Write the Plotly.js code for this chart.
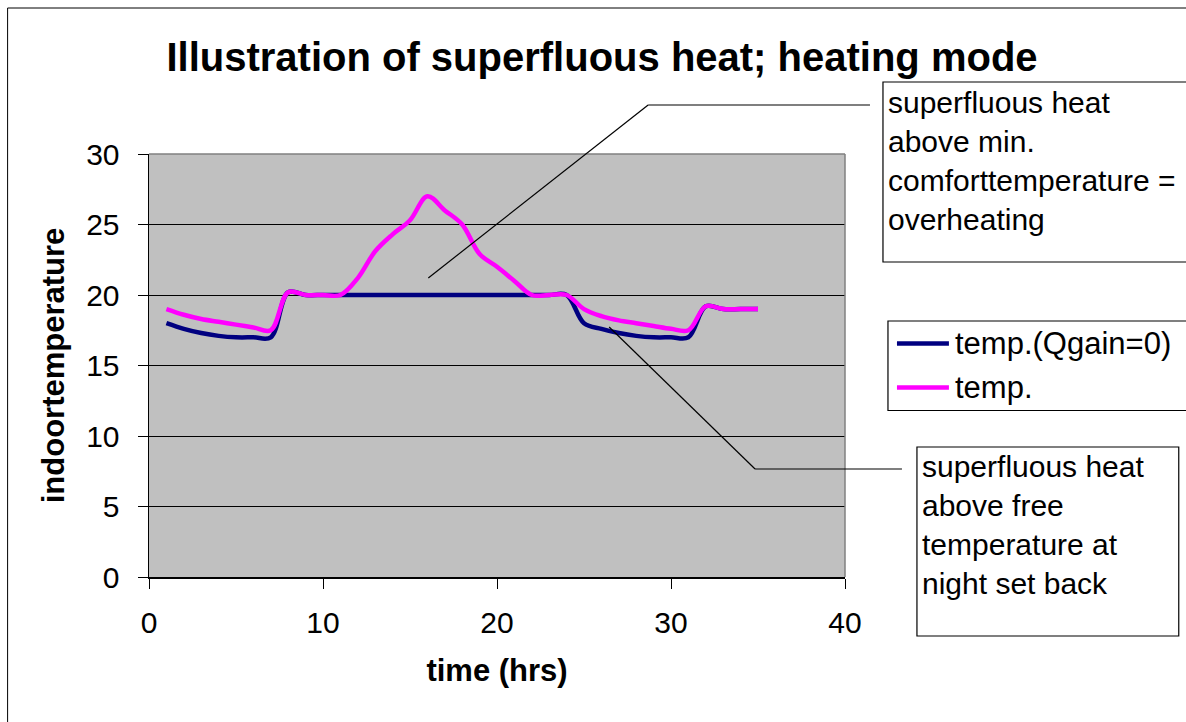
<!DOCTYPE html>
<html>
<head>
<meta charset="utf-8">
<script src="https://cdn.plot.ly/plotly-3.0.1.min.js"></script>
<style>html,body{margin:0;padding:0;background:#fff;}#chart{width:1186px;height:722px;}</style>
</head>
<body>
<div id="chart"></div>
<script>
// ---- data ----
const hours = [1,2,3,4,5,6,7,8,9,10,11,12,13,14,15,16,17,18,19,20,21,22,23,24,25,26,27,28,29,30,31,32,33,34,35];
const tempNoGain = [18.0,17.6,17.3,17.1,17.0,17.0,17.0,20.2,20.0,20.0,20.0,20.0,20.0,20.0,20.0,20.0,20.0,20.0,20.0,20.0,20.0,20.0,20.0,20.0,18.0,17.6,17.3,17.1,17.0,17.0,17.0,19.2,19.0,19.0,19.0];
const temp = [19.0,18.6,18.3,18.1,17.9,17.7,17.5,20.2,20.0,20.0,20.0,21.2,23.1,24.3,25.3,27.0,26.0,25.0,22.9,22.0,21.0,20.0,20.0,20.0,19.0,18.5,18.2,18.0,17.8,17.6,17.5,19.2,19.0,19.0,19.0];
const seriesNames = ["temp.(Qgain=0)", "temp."];
const chartTitle = "Illustration of superfluous heat; heating mode";
const xTitle = "time (hrs)";
const yTitle = "indoortemperature";
const note1 = ["superfluous heat", "above min.", "comforttemperature =", "overheating"];
const note2 = ["superfluous heat", "above free", "temperature at", "night set back"];

// ---- layout helpers (pixel -> paper) ----
const W = 1186, H = 722;
const L = 148.5, R = 845, T = 154, B = 577;
const pw = R - L, ph = B - T;
const px = x => (x - L) / pw;
const py = y => (B - y) / ph;
const FONT = "Liberation Sans, Arial, sans-serif";
const colors = ["#000080", "#FF00FF"];

const traces = [
  {x: hours, y: tempNoGain, name: seriesNames[0], type: "scatter", mode: "lines",
   line: {color: colors[0], width: 4.5, shape: "spline", smoothing: 1}},
  {x: hours, y: temp, name: seriesNames[1], type: "scatter", mode: "lines",
   line: {color: colors[1], width: 4.5, shape: "spline", smoothing: 1}}
];

const shapes = [];
function pline(x0, y0, x1, y1, color, width) {
  shapes.push({type: "line", xref: "paper", yref: "paper", x0: px(x0), y0: py(y0), x1: px(x1), y1: py(y1),
    line: {color: color, width: width}, layer: "above"});
}
function prect(x0, y0, x1, y1, color, width) {
  shapes.push({type: "rect", xref: "paper", yref: "paper", x0: px(x0), y0: py(y0), x1: px(x1), y1: py(y1),
    line: {color: color, width: width}, fillcolor: "rgba(0,0,0,0)", layer: "above"});
}
// outer chart frame
prect(7, 8, 1220, 760, "#000", 1);
// plot area border
pline(L, T, R, T, "#808080", 1.5);
pline(R, T, R, B, "#808080", 1.5);
// callout lines
pline(428, 278, 648, 105, "#000", 1.2);
pline(648, 105, 870, 105, "#000", 1.2);
pline(609, 327, 755, 469, "#000", 1.2);
pline(755, 469, 902, 469, "#000", 1.2);
// text boxes
prect(883, 82, 1230, 262, "#000", 1.2);
prect(917, 447, 1179, 636, "#000", 1.2);
// legend box + sample lines
prect(888, 321, 1230, 410.5, "#000", 1.2);
pline(897, 343.5, 949, 343.5, colors[0], 4.5);
pline(897, 387.5, 949, 387.5, colors[1], 4.5);

const annotations = [
  {xref: "paper", yref: "paper", x: px(886), y: py(84), xanchor: "left", yanchor: "top", align: "left",
   showarrow: false, text: note1.join("<br>"), font: {family: FONT, size: 30, color: "#000"}},
  {xref: "paper", yref: "paper", x: px(920), y: py(448), xanchor: "left", yanchor: "top", align: "left",
   showarrow: false, text: note2.join("<br>"), font: {family: FONT, size: 30, color: "#000"}},
  {xref: "paper", yref: "paper", x: px(953), y: py(343.5), xanchor: "left", yanchor: "middle", align: "left",
   showarrow: false, text: seriesNames[0], font: {family: FONT, size: 31, color: "#000"}},
  {xref: "paper", yref: "paper", x: px(953), y: py(387.5), xanchor: "left", yanchor: "middle", align: "left",
   showarrow: false, text: seriesNames[1], font: {family: FONT, size: 31, color: "#000"}}
];

const layout = {
  width: W, height: H,
  margin: {l: L, r: W - R, t: T, b: H - B, pad: 0},
  paper_bgcolor: "#fff",
  plot_bgcolor: "#C0C0C0",
  showlegend: false,
  font: {family: FONT, size: 30, color: "#000"},
  title: {text: "<b>" + chartTitle + "</b>", xref: "container", yref: "container",
    x: 602 / W, xanchor: "center", y: 1 - 57 / H, yanchor: "middle",
    font: {family: FONT, size: 40, color: "#000"}},
  xaxis: {range: [0, 40], tickvals: [0, 10, 20, 30, 40], ticks: "outside", ticklen: 10, tickcolor: "#000",
    tickwidth: 1, showline: true, linecolor: "#000", linewidth: 1.5, showgrid: false, zeroline: false,
    tickfont: {family: FONT, size: 30, color: "#000"}, ticklabelstandoff: 8,
    title: {text: "<b>" + xTitle + "</b>", font: {family: FONT, size: 31, color: "#000"}, standoff: 22}},
  yaxis: {range: [0, 30], tickvals: [0, 5, 10, 15, 20, 25, 30], ticks: "outside", ticklen: 10, tickcolor: "#000",
    tickwidth: 1, showline: true, linecolor: "#000", linewidth: 1.5, showgrid: true, gridcolor: "#000",
    gridwidth: 1, zeroline: false, tickfont: {family: FONT, size: 30, color: "#000"}, ticklabelstandoff: 12,
    title: {text: "<b>" + yTitle + "</b>", font: {family: FONT, size: 31, color: "#000"}, standoff: 12}},
  shapes: shapes,
  annotations: annotations
};

Plotly.newPlot("chart", traces, layout, {displayModeBar: false, staticPlot: true});
</script>
</body>
</html>
